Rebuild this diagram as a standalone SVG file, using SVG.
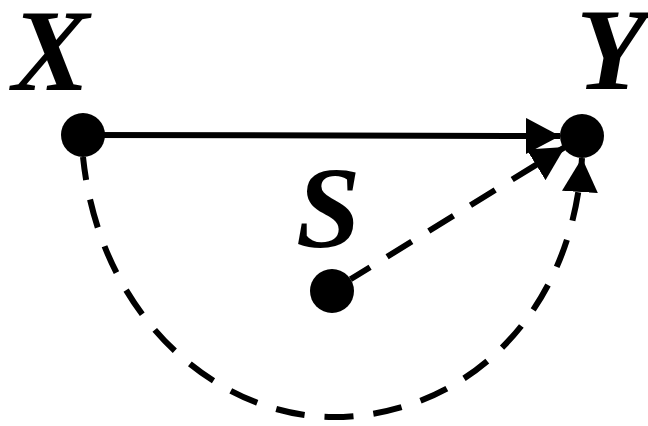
<svg xmlns="http://www.w3.org/2000/svg" width="648" height="426" viewBox="0 0 648 426">
<style>
.lbl{font-family:"Liberation Serif","Times New Roman",serif;font-weight:bold;font-style:italic;font-size:116px;fill:#000}
.node{fill:#000}
.edge{fill:none;stroke:#000;stroke-width:6}
.dash{stroke-dasharray:29 20;stroke-dashoffset:6}
</style>
<defs>
<marker id="arr" markerUnits="userSpaceOnUse" markerWidth="35" markerHeight="36" refX="34" refY="18" orient="auto" viewBox="0 0 35 36">
<path d="M0,0 L34,18 L0,36 z" fill="#000"/>
</marker>
</defs>
<g id="connectors">
<path id="e-x-y" class="edge" d="M83,135 L560,136" marker-end="url(#arr)"/>
<path id="e-s-y" class="edge dash" d="M350.5,279.3 L565,147" marker-end="url(#arr)"/>
<path id="e-x-y-curve" class="edge dash" d="M83,157 C100,320 220,417 333,417 C460,417 572,320 582,158" marker-end="url(#arr)"/>
</g>
<g id="node-x"><circle class="node" cx="83" cy="135" r="22"/><text class="lbl" x="12" y="90">X</text></g>
<g id="node-y"><circle class="node" cx="582" cy="136" r="22"/><text class="lbl" x="576" y="89">Y</text></g>
<g id="node-s"><circle class="node" cx="332" cy="291" r="22"/><text class="lbl" x="296" y="247">S</text></g>
</svg>
